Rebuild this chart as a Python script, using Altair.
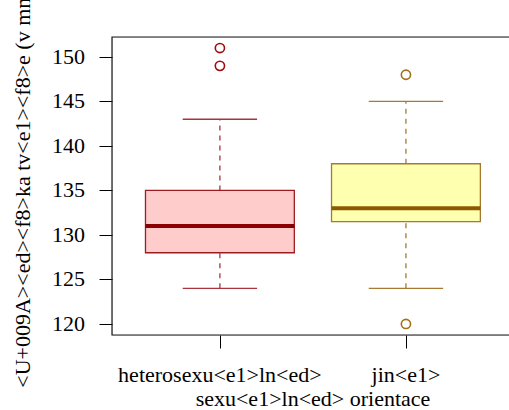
import altair as alt
import pandas as pd

# Summary statistics of face width (mm) by sexual orientation
groups = ["heterosexu<e1>ln<ed>", "jin<e1>"]
positions = [1, 2]
whisker_low = [124, 124]
q1 = [128, 131.5]
median = [131, 133]
q3 = [135, 138]
whisker_high = [143, 145]

outlier_group = ["heterosexu<e1>ln<ed>", "heterosexu<e1>ln<ed>", "jin<e1>", "jin<e1>"]
outlier_values = [151, 149, 148, 120]

y_ticks = [120, 125, 130, 135, 140, 145, 150]
x_title = "sexu<e1>ln<ed> orientace"
y_title = "<U+009A><ed><f8>ka tv<e1><f8>e (v mm)"

# Palette per group
fill_colors = ["#FFCCCC", "#FFFFB0"]
border_colors = ["#9C1C22", "#A57A2E"]
median_colors = ["#8B0000", "#8B5A00"]
whisker_colors = ["#A8343C", "#A67A30"]
outlier_colors = ["#A00C0C", "#A0701A"]

SERIF = "Times New Roman"
FS = 22
PLOT_W = 397
PLOT_H = 298

boxes = pd.DataFrame({
    "group": groups,
    "pos": positions,
    "lo": whisker_low,
    "q1": q1,
    "med": median,
    "q3": q3,
    "hi": whisker_high,
    "fill": fill_colors,
    "border": border_colors,
    "medc": median_colors,
    "whc": whisker_colors,
})

pos_of = dict(zip(groups, positions))
col_of = dict(zip(groups, outlier_colors))
outliers = pd.DataFrame({
    "group": outlier_group,
    "value": outlier_values,
    "pos": [pos_of[g] for g in outlier_group],
    "oc": [col_of[g] for g in outlier_group],
})
ticks_df = pd.DataFrame({"v": y_ticks, "label": [str(t) for t in y_ticks]})
cats_df = pd.DataFrame({"pos": positions, "label": groups})
xt_df = pd.DataFrame({"label": [x_title]})
yt_df = pd.DataFrame({"label": [y_title]})

x_scale = alt.Scale(domain=[0.42, 2.554], nice=False, zero=False)
y_scale = alt.Scale(domain=[118.76, 152.24], nice=False, zero=False)

# Axes carry only the outward ticks; all text is drawn as text marks
x_axis = alt.Axis(values=positions, labels=False, title=None, grid=False, domain=False,
                  tickSize=13, tickColor="black", tickWidth=1)
y_axis = alt.Axis(values=y_ticks, labels=False, title=None, grid=False, domain=False,
                  tickSize=13, tickColor="black", tickWidth=1)

base = alt.Chart(boxes).transform_calculate(
    left="datum.pos - 0.4", right="datum.pos + 0.4",
    capl="datum.pos - 0.2", capr="datum.pos + 0.2",
)

whisker_up = base.mark_rule(strokeWidth=1.3, strokeDash=[5, 5]).encode(
    x=alt.X("pos:Q", scale=x_scale, axis=x_axis),
    y=alt.Y("q3:Q", scale=y_scale, axis=y_axis),
    y2="hi:Q",
    stroke=alt.Stroke("whc:N", scale=None),
)
whisker_down = base.mark_rule(strokeWidth=1.3, strokeDash=[5, 5]).encode(
    x=alt.X("pos:Q", scale=x_scale),
    y=alt.Y("lo:Q", scale=y_scale),
    y2="q1:Q",
    stroke=alt.Stroke("whc:N", scale=None),
)
cap_hi = base.mark_rule(strokeWidth=1.3).encode(
    x=alt.X("capl:Q", scale=x_scale),
    x2="capr:Q",
    y=alt.Y("hi:Q", scale=y_scale),
    stroke=alt.Stroke("whc:N", scale=None),
)
cap_lo = base.mark_rule(strokeWidth=1.3).encode(
    x=alt.X("capl:Q", scale=x_scale),
    x2="capr:Q",
    y=alt.Y("lo:Q", scale=y_scale),
    stroke=alt.Stroke("whc:N", scale=None),
)
box = base.mark_rect(strokeWidth=1.3).encode(
    x=alt.X("left:Q", scale=x_scale),
    x2="right:Q",
    y=alt.Y("q1:Q", scale=y_scale),
    y2="q3:Q",
    fill=alt.Fill("fill:N", scale=None),
    stroke=alt.Stroke("border:N", scale=None),
)
med = base.mark_rule(strokeWidth=4).encode(
    x=alt.X("left:Q", scale=x_scale),
    x2="right:Q",
    y=alt.Y("med:Q", scale=y_scale),
    stroke=alt.Stroke("medc:N", scale=None),
)
pts = alt.Chart(outliers).mark_point(
    shape="circle", filled=False, size=85, strokeWidth=1.6, opacity=1
).encode(
    x=alt.X("pos:Q", scale=x_scale),
    y=alt.Y("value:Q", scale=y_scale),
    stroke=alt.Stroke("oc:N", scale=None),
)

# Plot frame
frame = alt.Chart(xt_df).mark_rect(fillOpacity=0, stroke="#1a1a1a", strokeWidth=1.2).encode(
    x=alt.value(0), x2=alt.value(PLOT_W + 6), y=alt.value(0), y2=alt.value(PLOT_H),
)

# Tick labels and axis titles
y_labels = alt.Chart(ticks_df).mark_text(
    font=SERIF, fontSize=FS, color="black", align="right", baseline="middle"
).encode(
    x=alt.value(-27),
    y=alt.Y("v:Q", scale=y_scale),
    text="label:N",
)
x_labels = alt.Chart(cats_df).mark_text(
    font=SERIF, fontSize=FS, color="black", align="center", baseline="alphabetic"
).encode(
    x=alt.X("pos:Q", scale=x_scale),
    y=alt.value(PLOT_H + 47),
    text="label:N",
)
x_title_mark = alt.Chart(xt_df).mark_text(
    font=SERIF, fontSize=FS, color="black", align="center", baseline="alphabetic"
).encode(
    x=alt.value(201),
    y=alt.value(PLOT_H + 71),
    text="label:N",
)
y_title_mark = alt.Chart(yt_df).mark_text(
    font=SERIF, fontSize=FS, color="black", align="center", baseline="alphabetic", angle=270
).encode(
    x=alt.value(-82),
    y=alt.value(PLOT_H / 2),
    text="label:N",
)

chart = alt.layer(
    whisker_up, whisker_down, cap_hi, cap_lo, box, med, pts, frame,
    y_labels, x_labels, x_title_mark, y_title_mark,
).properties(
    width=PLOT_W,
    height=PLOT_H,
    padding={"left": 112, "top": 37, "right": 0, "bottom": 75},
    autosize=alt.AutoSizeParams(type="none"),
)

chart.save("out.html", embed_options={"renderer": "svg", "actions": False})
